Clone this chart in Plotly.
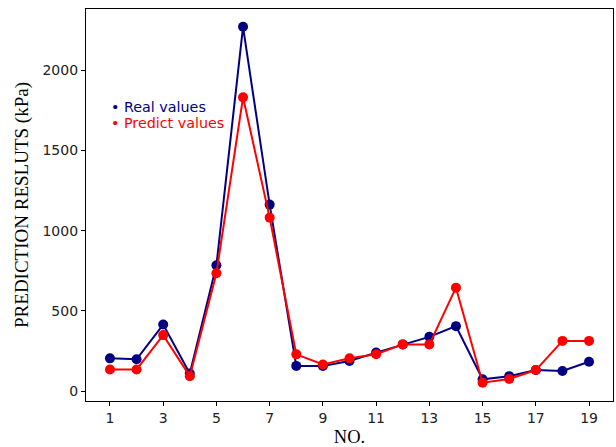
import plotly.graph_objects as go

# Sample number
sample_no = list(range(1, 20))

# Measured values (kPa)
real_values = [204, 198, 415, 110, 785, 2272, 1163, 157, 156, 188, 240, 291, 338, 405,
               73, 93, 131, 125, 183]

# Model predictions (kPa)
predict_values = [135, 135, 349, 93, 735, 1832, 1082, 229, 166, 204, 230, 291, 291, 645,
                  52, 75, 131, 313, 313]

x_ticks = list(range(1, 20, 2))
y_ticks = [0, 500, 1000, 1500, 2000]

REAL_COLOR = "#000080"
PRED_COLOR = "#ff0000"

fig = go.Figure()

fig.add_trace(go.Scatter(
    x=sample_no, y=real_values, mode="lines+markers", name="Real values",
    line=dict(color=REAL_COLOR, width=2),
    marker=dict(color=REAL_COLOR, size=10),
    showlegend=False,
))
fig.add_trace(go.Scatter(
    x=sample_no, y=predict_values, mode="lines+markers", name="Predict values",
    line=dict(color=PRED_COLOR, width=2),
    marker=dict(color=PRED_COLOR, size=10),
    showlegend=False,
))

# Compact key in the upper-left corner: bullet + coloured label
key_items = [("Real values", REAL_COLOR, 0.749), ("Predict values", PRED_COLOR, 0.708)]
for label, color, ypos in key_items:
    fig.add_annotation(
        xref="paper", yref="paper", x=0.044, y=ypos,
        xanchor="left", yanchor="middle", showarrow=False,
        text=f"\u2022 {label}",
        font=dict(family="DejaVu Sans", size=14.3, color=color),
    )

axis_common = dict(
    showline=True, linecolor="black", linewidth=1.2, mirror=True,
    ticks="outside", ticklen=4, tickwidth=1, tickcolor="black",
    showgrid=False, zeroline=False,
    tickfont=dict(family="DejaVu Sans", size=14, color="#222222"),
)

fig.update_layout(
    width=616, height=447,
    margin=dict(l=86, r=3, t=9, b=46),
    paper_bgcolor="white", plot_bgcolor="white",
    showlegend=False,
    xaxis=dict(
        range=[0.1, 19.9], tickvals=x_ticks,
        title=dict(text="NO.", font=dict(family="Liberation Serif", size=18.5, color="black"),
                   standoff=6),
        **axis_common,
    ),
    yaxis=dict(
        range=[-62, 2383], tickvals=y_ticks,
        title=dict(text="PREDICTION RESLUTS (kPa)",
                   font=dict(family="Liberation Serif", size=19, color="black"),
                   standoff=8),
        **axis_common,
    ),
)

fig.write_html("out.html")
